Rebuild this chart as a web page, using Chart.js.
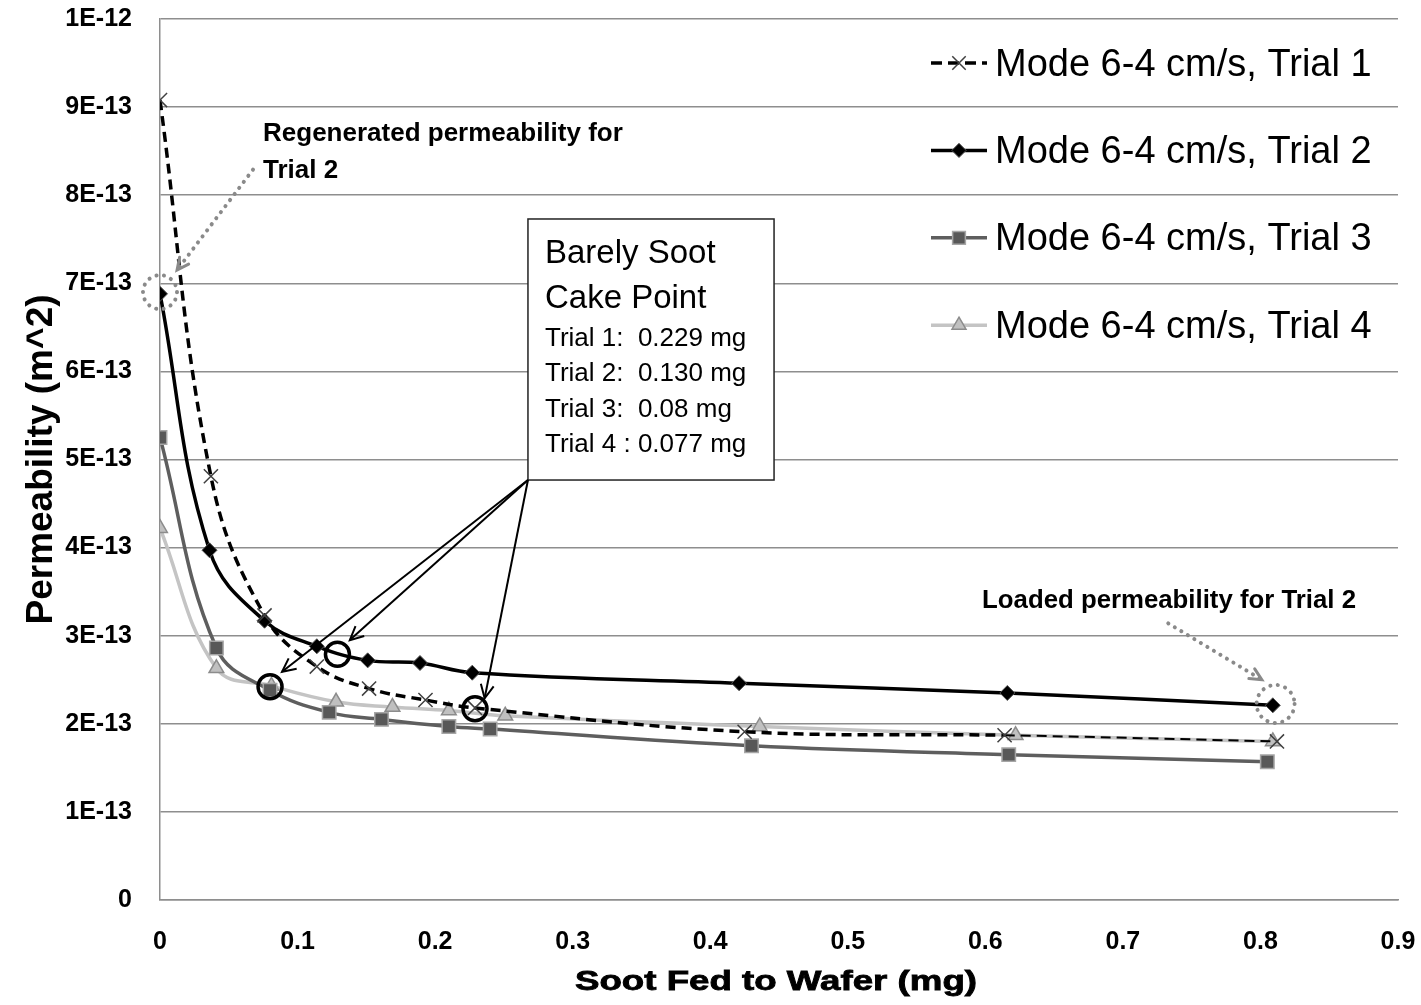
<!DOCTYPE html>
<html>
<head>
<meta charset="utf-8">
<title>Permeability vs soot fed</title>
<script src="https://cdn.jsdelivr.net/npm/chart.js@4.4.1/dist/chart.umd.min.js"></script>
<style>
    html, body { margin: 0; padding: 0; background: #fff; }
    #wrap { width: 1421px; height: 1005px; }
</style>
</head>
<body>
<div id="wrap"><canvas id="permChart" width="1421" height="1005"></canvas></div>
<script>
// Soot fed (mg) and permeability (units of 1E-13 m^2)
const soot1 = [0, 0.037, 0.076, 0.114, 0.152, 0.193, 0.229, 0.425, 0.614, 0.812];
const perm1 = [9.08, 4.81, 3.23, 2.65, 2.40, 2.27, 2.18, 1.91, 1.87, 1.80];

const soot2 = [0, 0.036, 0.076, 0.114, 0.151, 0.189, 0.227, 0.421, 0.616, 0.809];
const perm2 = [6.88, 3.97, 3.17, 2.88, 2.72, 2.69, 2.58, 2.46, 2.35, 2.21];

const soot3 = [0, 0.041, 0.080, 0.123, 0.161, 0.210, 0.240, 0.430, 0.617, 0.805];
const perm3 = [5.25, 2.86, 2.38, 2.13, 2.05, 1.97, 1.94, 1.75, 1.65, 1.57];

const soot4 = [0, 0.041, 0.081, 0.128, 0.169, 0.210, 0.251, 0.436, 0.622, 0.809];
const perm4 = [4.22, 2.63, 2.43, 2.25, 2.19, 2.15, 2.09, 1.97, 1.87, 1.80];

const seriesNames = [
    'Mode 6-4 cm/s, Trial 1',
    'Mode 6-4 cm/s, Trial 2',
    'Mode 6-4 cm/s, Trial 3',
    'Mode 6-4 cm/s, Trial 4'
];
const yTickLabels = ['0', '1E-13', '2E-13', '3E-13', '4E-13', '5E-13',
                     '6E-13', '7E-13', '8E-13', '9E-13', '1E-12'];
const xTickLabels = ['0', '0.1', '0.2', '0.3', '0.4', '0.5', '0.6', '0.7', '0.8', '0.9'];
const xTitle = 'Soot Fed to Wafer (mg)';

const cakeTitle = ['Barely Soot', 'Cake Point'];
const cakeNotes = ['Trial 1:  0.229 mg', 'Trial 2:  0.130 mg', 'Trial 3:  0.08 mg', 'Trial 4 : 0.077 mg'];
// barely-cake points that get a black ring
const cakeSoot = [0.229, 0.129, 0.080];
const cakePerm = [2.17, 2.79, 2.42];

const FONT = '"Liberation Sans", Arial, sans-serif';
const GRID = '#8e8e8e';

function pts(xs, ys) {
    return xs.map((x, i) => ({ x, y: ys[i] }));
}

function drawArrowHead(ctx, x1, y1, x2, y2, len) {
    const a = Math.atan2(y2 - y1, x2 - x1);
    ctx.beginPath();
    ctx.moveTo(x2 - len * Math.cos(a - 0.45), y2 - len * Math.sin(a - 0.45));
    ctx.lineTo(x2, y2);
    ctx.lineTo(x2 - len * Math.cos(a + 0.45), y2 - len * Math.sin(a + 0.45));
    ctx.stroke();
}

// kill the label overhang padding so the plot area sits where the original does
function noOverhang(s) {
    s.paddingTop = 0;
    s.paddingBottom = 0;
    s.paddingLeft = 0;
    s.paddingRight = 0;
}

// annotations: box, arrows, rings and notes (placed in data units)
const notesPlugin = {
    id: 'notes',
    afterDatasetsDraw(chart) {
        const ctx = chart.ctx;
        const X = v => chart.scales.x.getPixelForValue(v);
        const Y = v => chart.scales.y.getPixelForValue(v);
        ctx.save();

        // text box
        const bx = X(0.2675), by = Y(7.73), bw = X(0.4464) - bx, bh = Y(4.767) - by;
        ctx.fillStyle = '#fff';
        ctx.fillRect(bx, by, bw, bh);
        ctx.strokeStyle = '#222';
        ctx.lineWidth = 1.5;
        ctx.strokeRect(bx, by, bw, bh);
        ctx.fillStyle = '#000';
        ctx.textBaseline = 'alphabetic';
        ctx.font = '33px ' + FONT;
        ctx.fillText(cakeTitle[0], bx + 17, by + 44, 176);
        ctx.fillText(cakeTitle[1], bx + 17, by + 89, 176);
        ctx.font = '26px ' + FONT;
        cakeNotes.forEach((t, i) => ctx.fillText(t, bx + 17, by + 127 + i * 35.3, 206));

        // black arrows from the box corner
        const ox = bx, oy = by + bh;
        ctx.strokeStyle = '#000';
        ctx.lineWidth = 2;
        [[0.0887, 2.59], [0.138, 2.95], [0.236, 2.29]].forEach(([tx, ty]) => {
            ctx.beginPath();
            ctx.moveTo(ox, oy);
            ctx.lineTo(X(tx), Y(ty));
            ctx.stroke();
            drawArrowHead(ctx, ox, oy, X(tx), Y(ty), 15);
        });

        // black rings on the cake points
        ctx.lineWidth = 3.5;
        cakeSoot.forEach((s, i) => {
            ctx.beginPath();
            ctx.arc(X(s), Y(cakePerm[i]), 12, 0, Math.PI * 2);
            ctx.stroke();
        });

        // gray dotted rings and arrows
        ctx.strokeStyle = '#8a8a8a';
        ctx.lineCap = 'round';
        ctx.lineWidth = 4;
        ctx.setLineDash([0.1, 7.5]);
        [[0, 6.90, 17], [0.811, 2.225, 19]].forEach(([s, p, r]) => {
            ctx.beginPath();
            ctx.arc(X(s), Y(p), r, 0, Math.PI * 2);
            ctx.stroke();
        });
        const dotted = [[0.0676, 8.29, 0.0124, 7.15], [0.733, 3.14, 0.801, 2.50]];
        dotted.forEach(([x1, y1, x2, y2]) => {
            ctx.setLineDash([0.1, 7.5]);
            ctx.lineWidth = 4;
            ctx.beginPath();
            ctx.moveTo(X(x1), Y(y1));
            ctx.lineTo(X(x2), Y(y2));
            ctx.stroke();
            ctx.setLineDash([]);
            ctx.lineWidth = 3;
            drawArrowHead(ctx, X(x1), Y(y1), X(x2), Y(y2), 13);
        });
        ctx.setLineDash([]);

        // bold notes
        ctx.fillStyle = '#000';
        ctx.font = 'bold 26px ' + FONT;
        ctx.fillText('Regenerated permeability for', X(0.0749), Y(8.61), 360);
        ctx.fillText('Trial 2', X(0.0749), Y(8.20));
        ctx.fillText('Loaded permeability for Trial 2', X(0.5976), Y(3.314), 374);
        ctx.restore();
    }
};

// legend inside the plot (top right) and the wide x-axis title
const legendPlugin = {
    id: 'insideLegend',
    afterDraw(chart) {
        const ctx = chart.ctx;
        const area = chart.chartArea;
        const x0 = area.right - 467, x1 = area.right - 411, xm = area.right - 439;
        ctx.save();
        chart.data.datasets.forEach((ds, i) => {
            const y = area.top + 44 + i * 87.4;
            ctx.strokeStyle = ds.borderColor;
            ctx.lineWidth = ds.borderWidth;
            ctx.setLineDash(ds.borderDash ? [11, 6] : []);
            ctx.beginPath();
            ctx.moveTo(x0, y);
            ctx.lineTo(x1, y);
            ctx.stroke();
            ctx.setLineDash([]);
            ctx.fillStyle = ds.pointBackgroundColor;
            ctx.strokeStyle = ds.pointBorderColor;
            ctx.lineWidth = ds.pointBorderWidth;
            Chart.helpers.drawPoint(ctx, {
                pointStyle: ds.pointStyle,
                radius: ds.pointRadius * 0.95,
                borderWidth: ds.pointBorderWidth,
                rotation: 0
            }, xm, y);
            ctx.fillStyle = '#000';
            ctx.font = '38px ' + FONT;
            ctx.textBaseline = 'alphabetic';
            ctx.fillText(seriesNames[i], x1 + 8, y + 12.5, 378);
        });

        // x title: stretched sideways like the original
        ctx.font = 'bold 27px ' + FONT;
        const w = ctx.measureText(xTitle).width;
        const sx = 402 / w;
        const cx = (area.left + area.right) / 2 - 3;
        ctx.translate(cx, 990);
        ctx.scale(sx, 1);
        ctx.textAlign = 'center';
        ctx.fillStyle = '#000';
        ctx.strokeStyle = '#000';
        ctx.lineWidth = 0.8;
        ctx.fillText(xTitle, 0, 0);
        ctx.strokeText(xTitle, 0, 0);
        ctx.restore();
    }
};

const ctx = document.getElementById('permChart');
new Chart(ctx, {
    type: 'scatter',
    data: {
        datasets: [
            {
                label: seriesNames[0],
                data: pts(soot1, perm1),
                showLine: true,
                borderColor: '#000',
                borderWidth: 3.5,
                borderDash: [10, 6],
                segment: { borderWidth: c => (c.p1DataIndex === soot1.length - 1 ? 2 : 3.5) },
                pointStyle: 'crossRot',
                pointRadius: 10,
                pointBackgroundColor: '#404040',
                pointBorderColor: '#404040',
                pointBorderWidth: 1.5,
                tension: 0.4
            },
            {
                label: seriesNames[1],
                data: pts(soot2, perm2),
                showLine: true,
                borderColor: '#000',
                borderWidth: 3.5,
                pointStyle: 'rectRot',
                pointRadius: 7.5,
                pointBackgroundColor: '#000',
                pointBorderColor: '#555',
                pointBorderWidth: 1,
                tension: 0.4
            },
            {
                label: seriesNames[2],
                data: pts(soot3, perm3),
                showLine: true,
                borderColor: '#5e5e5e',
                borderWidth: 3.5,
                pointStyle: 'rect',
                pointRadius: 9.5,
                pointBackgroundColor: '#585858',
                pointBorderColor: '#a6a6a6',
                pointBorderWidth: 1.5,
                tension: 0.4
            },
            {
                label: seriesNames[3],
                data: pts(soot4, perm4),
                showLine: true,
                borderColor: '#c4c4c4',
                borderWidth: 3.5,
                pointStyle: 'triangle',
                pointRadius: 8.5,
                pointBackgroundColor: '#c0c0c0',
                pointBorderColor: '#8c8c8c',
                pointBorderWidth: 1.5,
                tension: 0.4
            }
        ]
    },
    options: {
        responsive: false,
        animation: false,
        layout: { padding: { left: 0, top: 19, right: 23, bottom: 0 } },
        plugins: {
            legend: { display: false },
            tooltip: { enabled: false }
        },
        scales: {
            x: {
                type: 'linear',
                min: 0,
                max: 0.9,
                afterBuildTicks: s => { s.ticks = xTickLabels.map(t => ({ value: parseFloat(t) })); },
                afterFit: s => { s.height = 105; noOverhang(s); },
                grid: { display: false, drawTicks: false },
                border: { color: GRID, width: 1.5 },
                ticks: {
                    color: '#000',
                    padding: 27,
                    maxRotation: 0,
                    font: { family: FONT, size: 25, weight: 'bold' },
                    callback: (v, i) => xTickLabels[i]
                },
                title: { display: false }
            },
            y: {
                min: 0,
                max: 10,
                afterBuildTicks: s => { s.ticks = yTickLabels.map((t, i) => ({ value: i })); },
                afterFit: s => { s.width = 160; noOverhang(s); },
                grid: { color: GRID, lineWidth: 1.5, drawTicks: false },
                border: { color: GRID, width: 1.5 },
                ticks: {
                    color: '#000',
                    padding: 28,
                    font: { family: FONT, size: 25, weight: 'bold' },
                    callback: (v, i) => yTickLabels[i]
                },
                title: {
                    display: true,
                    text: 'Permeability (m^2)',
                    color: '#000',
                    padding: { top: 20, bottom: 0 },
                    font: { family: FONT, size: 37, weight: 'bold' }
                }
            }
        }
    },
    plugins: [notesPlugin, legendPlugin]
});
</script>
</body>
</html>
